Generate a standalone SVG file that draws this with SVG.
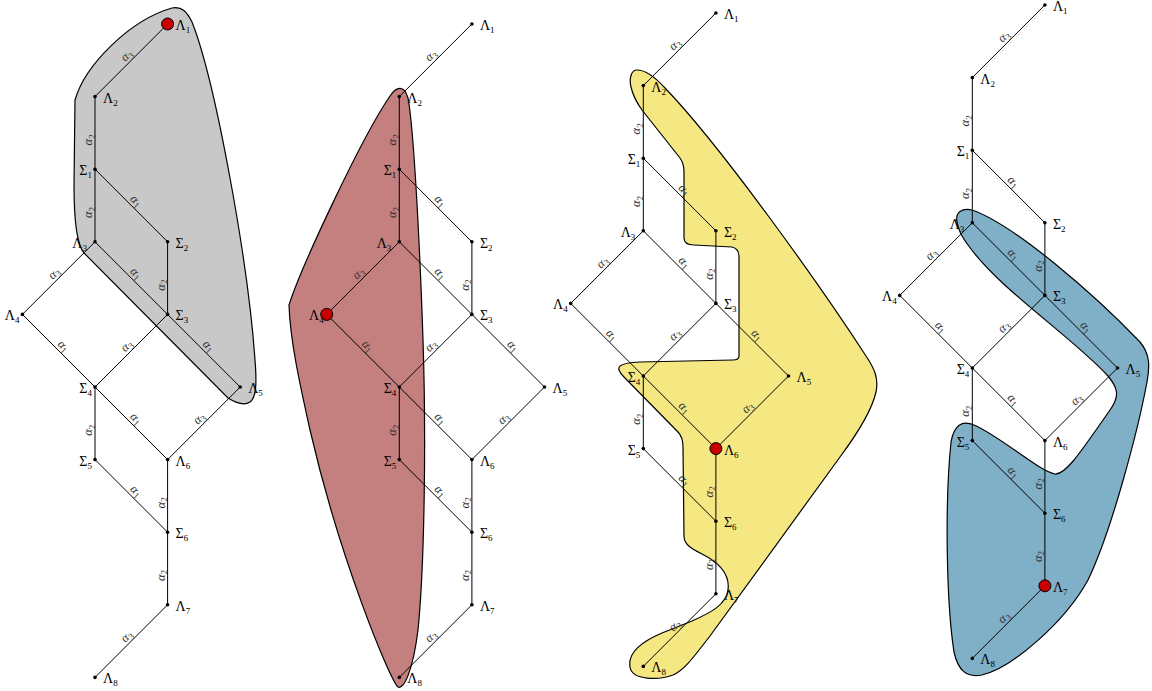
<svg xmlns="http://www.w3.org/2000/svg" width="1152" height="691" viewBox="0 0 1152 691">
<style>
.e{stroke:#000;stroke-width:1;fill:none}
.d{fill:#000}
.h{fill:#c80000;stroke:#000;stroke-width:1}
.nl{font-family:"Liberation Serif",serif;font-size:14px;fill:#000}
.nr{text-anchor:end}
.el{font-family:"Liberation Serif",serif;font-size:12.5px;fill:#333;text-anchor:middle}
.a{font-style:italic}
.s{font-size:9px}
.blob{stroke:#000;stroke-width:1.2}
</style>
<rect width="1152" height="691" fill="#fff"/>
<g id="regions">
<path id="region1" class="blob" fill="#c8c8c8" d="M 172,8 C 182,6 187,12 192,22 C 215,80 248,260 255,360 C 257,385 256,398 250,402 C 244,406 236,403 228,398 L 84,253 C 77,245 74,225 74,185 L 75,100 C 85,65 130,20 172,8 Z"/>
<path id="region2" class="blob" fill="#c47f7f" d="M 289,305 C 300,270 360,140 390,96 C 396,87 404,84 408,98 C 414,130 420,250 423,340 C 426,430 425,560 418,630 C 413,670 404,690 398,687 C 390,680 340,560 310,430 C 300,385 290,340 289,305 Z"/>
<path id="region3" class="blob" fill="#f5e883" d="M 637,70 C 631,70 629,79 631,87 C 633,96 637,103 642,110 L 680,158 C 683,162 684,166 684,172 L 684,238 C 684,243 688,245 694,245 L 732,247 C 737,248 739,251 739,257 L 739,356 C 739,359 737,360 733,360 L 640,362 C 618,363 614,367 624,377 L 678,432 C 682,436 683,440 683,447 L 684,536 C 684,544 690,548 702,554 C 720,563 730,575 728,590 C 726,605 710,613 692,621 L 662,633 C 636,644 628,655 630,667 C 632,681 660,680 673,675 C 685,670 695,655 710,636 L 840,457 C 860,430 872,410 876,392 C 879,378 874,368 866,356 C 820,285 720,145 665,88 C 655,77 645,70 637,70 Z"/>
<path id="region4" class="blob" fill="#80afc8" d="M 957,222 C 955,212 962,208 972,210 C 1015,225 1095,295 1140,342 C 1150,354 1150,366 1147,382 C 1138,430 1112,530 1088,580 C 1065,622 1012,668 982,675 C 966,678 958,670 954,652 C 946,600 945,500 951,442 C 954,425 962,420 974,425 C 1000,436 1040,472 1055,474 C 1066,475 1082,450 1110,410 C 1120,396 1118,388 1108,376 C 1070,335 1000,290 968,245 C 962,237 958,230 957,222 Z"/>
</g>

<!-- Panel 1 -->
<g id="panel1" transform="translate(95,24)">
<g id="p1-connectors">
<line class="e" x1="72.6" y1="0" x2="0" y2="72.6"/>
<line class="e" x1="0" y1="72.6" x2="0" y2="145.2"/>
<line class="e" x1="0" y1="145.2" x2="0" y2="217.8"/>
<line class="e" x1="0" y1="145.2" x2="72.6" y2="217.8"/>
<line class="e" x1="0" y1="217.8" x2="-72.6" y2="290.4"/>
<line class="e" x1="0" y1="217.8" x2="72.6" y2="290.4"/>
<line class="e" x1="72.6" y1="217.8" x2="72.6" y2="290.4"/>
<line class="e" x1="-72.6" y1="290.4" x2="0" y2="363"/>
<line class="e" x1="72.6" y1="290.4" x2="0" y2="363"/>
<line class="e" x1="72.6" y1="290.4" x2="145.2" y2="363"/>
<line class="e" x1="0" y1="363" x2="0" y2="435.6"/>
<line class="e" x1="0" y1="363" x2="72.6" y2="435.6"/>
<line class="e" x1="145.2" y1="363" x2="72.6" y2="435.6"/>
<line class="e" x1="0" y1="435.6" x2="72.6" y2="508.2"/>
<line class="e" x1="72.6" y1="435.6" x2="72.6" y2="508.2"/>
<line class="e" x1="72.6" y1="508.2" x2="72.6" y2="580.8"/>
<line class="e" x1="72.6" y1="580.8" x2="0" y2="653.4"/>
<g transform="translate(36.3,36.3) rotate(-45)"><text class="el" y="-3"><tspan class="a">α</tspan><tspan class="s" dy="2.5">3</tspan></text></g>
<g transform="translate(0,115.9) rotate(-90)"><text class="el" y="-3"><tspan class="a">α</tspan><tspan class="s" dy="2.5">2</tspan></text></g>
<g transform="translate(0,188.5) rotate(-90)"><text class="el" y="-3"><tspan class="a">α</tspan><tspan class="s" dy="2.5">2</tspan></text></g>
<g transform="translate(36.3,181.5) rotate(45)"><text class="el" y="-3"><tspan class="a">α</tspan><tspan class="s" dy="2.5">1</tspan></text></g>
<g transform="translate(-36.3,254.1) rotate(-45)"><text class="el" y="-3"><tspan class="a">α</tspan><tspan class="s" dy="2.5">3</tspan></text></g>
<g transform="translate(36.3,254.1) rotate(45)"><text class="el" y="-3"><tspan class="a">α</tspan><tspan class="s" dy="2.5">1</tspan></text></g>
<g transform="translate(72.6,261.1) rotate(-90)"><text class="el" y="-3"><tspan class="a">α</tspan><tspan class="s" dy="2.5">2</tspan></text></g>
<g transform="translate(-36.3,326.7) rotate(45)"><text class="el" y="-3"><tspan class="a">α</tspan><tspan class="s" dy="2.5">1</tspan></text></g>
<g transform="translate(36.3,326.7) rotate(-45)"><text class="el" y="-3"><tspan class="a">α</tspan><tspan class="s" dy="2.5">3</tspan></text></g>
<g transform="translate(108.9,326.7) rotate(45)"><text class="el" y="-3"><tspan class="a">α</tspan><tspan class="s" dy="2.5">1</tspan></text></g>
<g transform="translate(0,406.3) rotate(-90)"><text class="el" y="-3"><tspan class="a">α</tspan><tspan class="s" dy="2.5">2</tspan></text></g>
<g transform="translate(36.3,399.3) rotate(45)"><text class="el" y="-3"><tspan class="a">α</tspan><tspan class="s" dy="2.5">1</tspan></text></g>
<g transform="translate(108.9,399.3) rotate(-45)"><text class="el" y="-3"><tspan class="a">α</tspan><tspan class="s" dy="2.5">3</tspan></text></g>
<g transform="translate(36.3,471.9) rotate(45)"><text class="el" y="-3"><tspan class="a">α</tspan><tspan class="s" dy="2.5">1</tspan></text></g>
<g transform="translate(72.6,478.9) rotate(-90)"><text class="el" y="-3"><tspan class="a">α</tspan><tspan class="s" dy="2.5">2</tspan></text></g>
<g transform="translate(72.6,551.5) rotate(-90)"><text class="el" y="-3"><tspan class="a">α</tspan><tspan class="s" dy="2.5">2</tspan></text></g>
<g transform="translate(36.3,617.1) rotate(-45)"><text class="el" y="-3"><tspan class="a">α</tspan><tspan class="s" dy="2.5">3</tspan></text></g>
</g>
<g id="p1-L1"><circle class="h" cx="72.6" cy="0" r="6"/><text class="nl" x="80.6" y="6">Λ<tspan class="s" dy="3">1</tspan></text></g>
<g id="p1-L2"><circle class="d" cx="0" cy="72.6" r="1.8"/><text class="nl" x="8" y="78.6">Λ<tspan class="s" dy="3">2</tspan></text></g>
<g id="p1-S1"><circle class="d" cx="0" cy="145.2" r="1.8"/><text class="nl nr" x="-3" y="151.2">Σ<tspan class="s" dy="3">1</tspan></text></g>
<g id="p1-L3"><circle class="d" cx="0" cy="217.8" r="1.8"/><text class="nl nr" x="-8" y="223.8">Λ<tspan class="s" dy="3">3</tspan></text></g>
<g id="p1-S2"><circle class="d" cx="72.6" cy="217.8" r="1.8"/><text class="nl" x="80.6" y="223.8">Σ<tspan class="s" dy="3">2</tspan></text></g>
<g id="p1-L4"><circle class="d" cx="-72.6" cy="290.4" r="1.8"/><text class="nl nr" x="-75.6" y="296.4">Λ<tspan class="s" dy="3">4</tspan></text></g>
<g id="p1-S3"><circle class="d" cx="72.6" cy="290.4" r="1.8"/><text class="nl" x="80.6" y="296.4">Σ<tspan class="s" dy="3">3</tspan></text></g>
<g id="p1-S4"><circle class="d" cx="0" cy="363" r="1.8"/><text class="nl nr" x="-3" y="369">Σ<tspan class="s" dy="3">4</tspan></text></g>
<g id="p1-L5"><circle class="d" cx="145.2" cy="363" r="1.8"/><text class="nl" x="153.2" y="369">Λ<tspan class="s" dy="3">5</tspan></text></g>
<g id="p1-S5"><circle class="d" cx="0" cy="435.6" r="1.8"/><text class="nl nr" x="-3" y="441.6">Σ<tspan class="s" dy="3">5</tspan></text></g>
<g id="p1-L6"><circle class="d" cx="72.6" cy="435.6" r="1.8"/><text class="nl" x="80.6" y="441.6">Λ<tspan class="s" dy="3">6</tspan></text></g>
<g id="p1-S6"><circle class="d" cx="72.6" cy="508.2" r="1.8"/><text class="nl" x="80.6" y="514.2">Σ<tspan class="s" dy="3">6</tspan></text></g>
<g id="p1-L7"><circle class="d" cx="72.6" cy="580.8" r="1.8"/><text class="nl" x="80.6" y="586.8">Λ<tspan class="s" dy="3">7</tspan></text></g>
<g id="p1-L8"><circle class="d" cx="0" cy="653.4" r="1.8"/><text class="nl" x="8" y="659.4">Λ<tspan class="s" dy="3">8</tspan></text></g>
</g>

<!-- Panel 2 -->
<g id="panel2" transform="translate(399.3,24)">
<g id="p2-connectors">
<line class="e" x1="72.6" y1="0" x2="0" y2="72.6"/>
<line class="e" x1="0" y1="72.6" x2="0" y2="145.2"/>
<line class="e" x1="0" y1="145.2" x2="0" y2="217.8"/>
<line class="e" x1="0" y1="145.2" x2="72.6" y2="217.8"/>
<line class="e" x1="0" y1="217.8" x2="-72.6" y2="290.4"/>
<line class="e" x1="0" y1="217.8" x2="72.6" y2="290.4"/>
<line class="e" x1="72.6" y1="217.8" x2="72.6" y2="290.4"/>
<line class="e" x1="-72.6" y1="290.4" x2="0" y2="363"/>
<line class="e" x1="72.6" y1="290.4" x2="0" y2="363"/>
<line class="e" x1="72.6" y1="290.4" x2="145.2" y2="363"/>
<line class="e" x1="0" y1="363" x2="0" y2="435.6"/>
<line class="e" x1="0" y1="363" x2="72.6" y2="435.6"/>
<line class="e" x1="145.2" y1="363" x2="72.6" y2="435.6"/>
<line class="e" x1="0" y1="435.6" x2="72.6" y2="508.2"/>
<line class="e" x1="72.6" y1="435.6" x2="72.6" y2="508.2"/>
<line class="e" x1="72.6" y1="508.2" x2="72.6" y2="580.8"/>
<line class="e" x1="72.6" y1="580.8" x2="0" y2="653.4"/>
<g transform="translate(36.3,36.3) rotate(-45)"><text class="el" y="-3"><tspan class="a">α</tspan><tspan class="s" dy="2.5">3</tspan></text></g>
<g transform="translate(0,115.9) rotate(-90)"><text class="el" y="-3"><tspan class="a">α</tspan><tspan class="s" dy="2.5">2</tspan></text></g>
<g transform="translate(0,188.5) rotate(-90)"><text class="el" y="-3"><tspan class="a">α</tspan><tspan class="s" dy="2.5">2</tspan></text></g>
<g transform="translate(36.3,181.5) rotate(45)"><text class="el" y="-3"><tspan class="a">α</tspan><tspan class="s" dy="2.5">1</tspan></text></g>
<g transform="translate(-36.3,254.1) rotate(-45)"><text class="el" y="-3"><tspan class="a">α</tspan><tspan class="s" dy="2.5">3</tspan></text></g>
<g transform="translate(36.3,254.1) rotate(45)"><text class="el" y="-3"><tspan class="a">α</tspan><tspan class="s" dy="2.5">1</tspan></text></g>
<g transform="translate(72.6,261.1) rotate(-90)"><text class="el" y="-3"><tspan class="a">α</tspan><tspan class="s" dy="2.5">2</tspan></text></g>
<g transform="translate(-36.3,326.7) rotate(45)"><text class="el" y="-3"><tspan class="a">α</tspan><tspan class="s" dy="2.5">1</tspan></text></g>
<g transform="translate(36.3,326.7) rotate(-45)"><text class="el" y="-3"><tspan class="a">α</tspan><tspan class="s" dy="2.5">3</tspan></text></g>
<g transform="translate(108.9,326.7) rotate(45)"><text class="el" y="-3"><tspan class="a">α</tspan><tspan class="s" dy="2.5">1</tspan></text></g>
<g transform="translate(0,406.3) rotate(-90)"><text class="el" y="-3"><tspan class="a">α</tspan><tspan class="s" dy="2.5">2</tspan></text></g>
<g transform="translate(36.3,399.3) rotate(45)"><text class="el" y="-3"><tspan class="a">α</tspan><tspan class="s" dy="2.5">1</tspan></text></g>
<g transform="translate(108.9,399.3) rotate(-45)"><text class="el" y="-3"><tspan class="a">α</tspan><tspan class="s" dy="2.5">3</tspan></text></g>
<g transform="translate(36.3,471.9) rotate(45)"><text class="el" y="-3"><tspan class="a">α</tspan><tspan class="s" dy="2.5">1</tspan></text></g>
<g transform="translate(72.6,478.9) rotate(-90)"><text class="el" y="-3"><tspan class="a">α</tspan><tspan class="s" dy="2.5">2</tspan></text></g>
<g transform="translate(72.6,551.5) rotate(-90)"><text class="el" y="-3"><tspan class="a">α</tspan><tspan class="s" dy="2.5">2</tspan></text></g>
<g transform="translate(36.3,617.1) rotate(-45)"><text class="el" y="-3"><tspan class="a">α</tspan><tspan class="s" dy="2.5">3</tspan></text></g>
</g>
<g id="p2-L1"><circle class="d" cx="72.6" cy="0" r="1.8"/><text class="nl" x="80.6" y="6">Λ<tspan class="s" dy="3">1</tspan></text></g>
<g id="p2-L2"><circle class="d" cx="0" cy="72.6" r="1.8"/><text class="nl" x="8" y="78.6">Λ<tspan class="s" dy="3">2</tspan></text></g>
<g id="p2-S1"><circle class="d" cx="0" cy="145.2" r="1.8"/><text class="nl nr" x="-3" y="151.2">Σ<tspan class="s" dy="3">1</tspan></text></g>
<g id="p2-L3"><circle class="d" cx="0" cy="217.8" r="1.8"/><text class="nl nr" x="-8" y="223.8">Λ<tspan class="s" dy="3">3</tspan></text></g>
<g id="p2-S2"><circle class="d" cx="72.6" cy="217.8" r="1.8"/><text class="nl" x="80.6" y="223.8">Σ<tspan class="s" dy="3">2</tspan></text></g>
<g id="p2-L4"><circle class="h" cx="-72.6" cy="290.4" r="6"/><text class="nl nr" x="-75.6" y="296.4">Λ<tspan class="s" dy="3">4</tspan></text></g>
<g id="p2-S3"><circle class="d" cx="72.6" cy="290.4" r="1.8"/><text class="nl" x="80.6" y="296.4">Σ<tspan class="s" dy="3">3</tspan></text></g>
<g id="p2-S4"><circle class="d" cx="0" cy="363" r="1.8"/><text class="nl nr" x="-3" y="369">Σ<tspan class="s" dy="3">4</tspan></text></g>
<g id="p2-L5"><circle class="d" cx="145.2" cy="363" r="1.8"/><text class="nl" x="153.2" y="369">Λ<tspan class="s" dy="3">5</tspan></text></g>
<g id="p2-S5"><circle class="d" cx="0" cy="435.6" r="1.8"/><text class="nl nr" x="-3" y="441.6">Σ<tspan class="s" dy="3">5</tspan></text></g>
<g id="p2-L6"><circle class="d" cx="72.6" cy="435.6" r="1.8"/><text class="nl" x="80.6" y="441.6">Λ<tspan class="s" dy="3">6</tspan></text></g>
<g id="p2-S6"><circle class="d" cx="72.6" cy="508.2" r="1.8"/><text class="nl" x="80.6" y="514.2">Σ<tspan class="s" dy="3">6</tspan></text></g>
<g id="p2-L7"><circle class="d" cx="72.6" cy="580.8" r="1.8"/><text class="nl" x="80.6" y="586.8">Λ<tspan class="s" dy="3">7</tspan></text></g>
<g id="p2-L8"><circle class="d" cx="0" cy="653.4" r="1.8"/><text class="nl" x="8" y="659.4">Λ<tspan class="s" dy="3">8</tspan></text></g>
</g>

<!-- Panel 3 -->
<g id="panel3" transform="translate(643.3,13)">
<g id="p3-connectors">
<line class="e" x1="72.6" y1="0" x2="0" y2="72.6"/>
<line class="e" x1="0" y1="72.6" x2="0" y2="145.2"/>
<line class="e" x1="0" y1="145.2" x2="0" y2="217.8"/>
<line class="e" x1="0" y1="145.2" x2="72.6" y2="217.8"/>
<line class="e" x1="0" y1="217.8" x2="-72.6" y2="290.4"/>
<line class="e" x1="0" y1="217.8" x2="72.6" y2="290.4"/>
<line class="e" x1="72.6" y1="217.8" x2="72.6" y2="290.4"/>
<line class="e" x1="-72.6" y1="290.4" x2="0" y2="363"/>
<line class="e" x1="72.6" y1="290.4" x2="0" y2="363"/>
<line class="e" x1="72.6" y1="290.4" x2="145.2" y2="363"/>
<line class="e" x1="0" y1="363" x2="0" y2="435.6"/>
<line class="e" x1="0" y1="363" x2="72.6" y2="435.6"/>
<line class="e" x1="145.2" y1="363" x2="72.6" y2="435.6"/>
<line class="e" x1="0" y1="435.6" x2="72.6" y2="508.2"/>
<line class="e" x1="72.6" y1="435.6" x2="72.6" y2="508.2"/>
<line class="e" x1="72.6" y1="508.2" x2="72.6" y2="580.8"/>
<line class="e" x1="72.6" y1="580.8" x2="0" y2="653.4"/>
<g transform="translate(36.3,36.3) rotate(-45)"><text class="el" y="-3"><tspan class="a">α</tspan><tspan class="s" dy="2.5">3</tspan></text></g>
<g transform="translate(0,115.9) rotate(-90)"><text class="el" y="-3"><tspan class="a">α</tspan><tspan class="s" dy="2.5">2</tspan></text></g>
<g transform="translate(0,188.5) rotate(-90)"><text class="el" y="-3"><tspan class="a">α</tspan><tspan class="s" dy="2.5">2</tspan></text></g>
<g transform="translate(36.3,181.5) rotate(45)"><text class="el" y="-3"><tspan class="a">α</tspan><tspan class="s" dy="2.5">1</tspan></text></g>
<g transform="translate(-36.3,254.1) rotate(-45)"><text class="el" y="-3"><tspan class="a">α</tspan><tspan class="s" dy="2.5">3</tspan></text></g>
<g transform="translate(36.3,254.1) rotate(45)"><text class="el" y="-3"><tspan class="a">α</tspan><tspan class="s" dy="2.5">1</tspan></text></g>
<g transform="translate(72.6,261.1) rotate(-90)"><text class="el" y="-3"><tspan class="a">α</tspan><tspan class="s" dy="2.5">2</tspan></text></g>
<g transform="translate(-36.3,326.7) rotate(45)"><text class="el" y="-3"><tspan class="a">α</tspan><tspan class="s" dy="2.5">1</tspan></text></g>
<g transform="translate(36.3,326.7) rotate(-45)"><text class="el" y="-3"><tspan class="a">α</tspan><tspan class="s" dy="2.5">3</tspan></text></g>
<g transform="translate(108.9,326.7) rotate(45)"><text class="el" y="-3"><tspan class="a">α</tspan><tspan class="s" dy="2.5">1</tspan></text></g>
<g transform="translate(0,406.3) rotate(-90)"><text class="el" y="-3"><tspan class="a">α</tspan><tspan class="s" dy="2.5">2</tspan></text></g>
<g transform="translate(36.3,399.3) rotate(45)"><text class="el" y="-3"><tspan class="a">α</tspan><tspan class="s" dy="2.5">1</tspan></text></g>
<g transform="translate(108.9,399.3) rotate(-45)"><text class="el" y="-3"><tspan class="a">α</tspan><tspan class="s" dy="2.5">3</tspan></text></g>
<g transform="translate(36.3,471.9) rotate(45)"><text class="el" y="-3"><tspan class="a">α</tspan><tspan class="s" dy="2.5">1</tspan></text></g>
<g transform="translate(72.6,478.9) rotate(-90)"><text class="el" y="-3"><tspan class="a">α</tspan><tspan class="s" dy="2.5">2</tspan></text></g>
<g transform="translate(72.6,551.5) rotate(-90)"><text class="el" y="-3"><tspan class="a">α</tspan><tspan class="s" dy="2.5">2</tspan></text></g>
<g transform="translate(36.3,617.1) rotate(-45)"><text class="el" y="-3"><tspan class="a">α</tspan><tspan class="s" dy="2.5">3</tspan></text></g>
</g>
<g id="p3-L1"><circle class="d" cx="72.6" cy="0" r="1.8"/><text class="nl" x="80.6" y="6">Λ<tspan class="s" dy="3">1</tspan></text></g>
<g id="p3-L2"><circle class="d" cx="0" cy="72.6" r="1.8"/><text class="nl" x="8" y="78.6">Λ<tspan class="s" dy="3">2</tspan></text></g>
<g id="p3-S1"><circle class="d" cx="0" cy="145.2" r="1.8"/><text class="nl nr" x="-3" y="151.2">Σ<tspan class="s" dy="3">1</tspan></text></g>
<g id="p3-L3"><circle class="d" cx="0" cy="217.8" r="1.8"/><text class="nl nr" x="-8" y="223.8">Λ<tspan class="s" dy="3">3</tspan></text></g>
<g id="p3-S2"><circle class="d" cx="72.6" cy="217.8" r="1.8"/><text class="nl" x="80.6" y="223.8">Σ<tspan class="s" dy="3">2</tspan></text></g>
<g id="p3-L4"><circle class="d" cx="-72.6" cy="290.4" r="1.8"/><text class="nl nr" x="-75.6" y="296.4">Λ<tspan class="s" dy="3">4</tspan></text></g>
<g id="p3-S3"><circle class="d" cx="72.6" cy="290.4" r="1.8"/><text class="nl" x="80.6" y="296.4">Σ<tspan class="s" dy="3">3</tspan></text></g>
<g id="p3-S4"><circle class="d" cx="0" cy="363" r="1.8"/><text class="nl nr" x="-3" y="369">Σ<tspan class="s" dy="3">4</tspan></text></g>
<g id="p3-L5"><circle class="d" cx="145.2" cy="363" r="1.8"/><text class="nl" x="153.2" y="369">Λ<tspan class="s" dy="3">5</tspan></text></g>
<g id="p3-S5"><circle class="d" cx="0" cy="435.6" r="1.8"/><text class="nl nr" x="-3" y="441.6">Σ<tspan class="s" dy="3">5</tspan></text></g>
<g id="p3-L6"><circle class="h" cx="72.6" cy="435.6" r="6"/><text class="nl" x="80.6" y="441.6">Λ<tspan class="s" dy="3">6</tspan></text></g>
<g id="p3-S6"><circle class="d" cx="72.6" cy="508.2" r="1.8"/><text class="nl" x="80.6" y="514.2">Σ<tspan class="s" dy="3">6</tspan></text></g>
<g id="p3-L7"><circle class="d" cx="72.6" cy="580.8" r="1.8"/><text class="nl" x="80.6" y="586.8">Λ<tspan class="s" dy="3">7</tspan></text></g>
<g id="p3-L8"><circle class="d" cx="0" cy="653.4" r="1.8"/><text class="nl" x="8" y="659.4">Λ<tspan class="s" dy="3">8</tspan></text></g>
</g>

<!-- Panel 4 -->
<g id="panel4" transform="translate(972.3,5)">
<g id="p4-connectors">
<line class="e" x1="72.6" y1="0" x2="0" y2="72.6"/>
<line class="e" x1="0" y1="72.6" x2="0" y2="145.2"/>
<line class="e" x1="0" y1="145.2" x2="0" y2="217.8"/>
<line class="e" x1="0" y1="145.2" x2="72.6" y2="217.8"/>
<line class="e" x1="0" y1="217.8" x2="-72.6" y2="290.4"/>
<line class="e" x1="0" y1="217.8" x2="72.6" y2="290.4"/>
<line class="e" x1="72.6" y1="217.8" x2="72.6" y2="290.4"/>
<line class="e" x1="-72.6" y1="290.4" x2="0" y2="363"/>
<line class="e" x1="72.6" y1="290.4" x2="0" y2="363"/>
<line class="e" x1="72.6" y1="290.4" x2="145.2" y2="363"/>
<line class="e" x1="0" y1="363" x2="0" y2="435.6"/>
<line class="e" x1="0" y1="363" x2="72.6" y2="435.6"/>
<line class="e" x1="145.2" y1="363" x2="72.6" y2="435.6"/>
<line class="e" x1="0" y1="435.6" x2="72.6" y2="508.2"/>
<line class="e" x1="72.6" y1="435.6" x2="72.6" y2="508.2"/>
<line class="e" x1="72.6" y1="508.2" x2="72.6" y2="580.8"/>
<line class="e" x1="72.6" y1="580.8" x2="0" y2="653.4"/>
<g transform="translate(36.3,36.3) rotate(-45)"><text class="el" y="-3"><tspan class="a">α</tspan><tspan class="s" dy="2.5">3</tspan></text></g>
<g transform="translate(0,115.9) rotate(-90)"><text class="el" y="-3"><tspan class="a">α</tspan><tspan class="s" dy="2.5">2</tspan></text></g>
<g transform="translate(0,188.5) rotate(-90)"><text class="el" y="-3"><tspan class="a">α</tspan><tspan class="s" dy="2.5">2</tspan></text></g>
<g transform="translate(36.3,181.5) rotate(45)"><text class="el" y="-3"><tspan class="a">α</tspan><tspan class="s" dy="2.5">1</tspan></text></g>
<g transform="translate(-36.3,254.1) rotate(-45)"><text class="el" y="-3"><tspan class="a">α</tspan><tspan class="s" dy="2.5">3</tspan></text></g>
<g transform="translate(36.3,254.1) rotate(45)"><text class="el" y="-3"><tspan class="a">α</tspan><tspan class="s" dy="2.5">1</tspan></text></g>
<g transform="translate(72.6,261.1) rotate(-90)"><text class="el" y="-3"><tspan class="a">α</tspan><tspan class="s" dy="2.5">2</tspan></text></g>
<g transform="translate(-36.3,326.7) rotate(45)"><text class="el" y="-3"><tspan class="a">α</tspan><tspan class="s" dy="2.5">1</tspan></text></g>
<g transform="translate(36.3,326.7) rotate(-45)"><text class="el" y="-3"><tspan class="a">α</tspan><tspan class="s" dy="2.5">3</tspan></text></g>
<g transform="translate(108.9,326.7) rotate(45)"><text class="el" y="-3"><tspan class="a">α</tspan><tspan class="s" dy="2.5">1</tspan></text></g>
<g transform="translate(0,406.3) rotate(-90)"><text class="el" y="-3"><tspan class="a">α</tspan><tspan class="s" dy="2.5">2</tspan></text></g>
<g transform="translate(36.3,399.3) rotate(45)"><text class="el" y="-3"><tspan class="a">α</tspan><tspan class="s" dy="2.5">1</tspan></text></g>
<g transform="translate(108.9,399.3) rotate(-45)"><text class="el" y="-3"><tspan class="a">α</tspan><tspan class="s" dy="2.5">3</tspan></text></g>
<g transform="translate(36.3,471.9) rotate(45)"><text class="el" y="-3"><tspan class="a">α</tspan><tspan class="s" dy="2.5">1</tspan></text></g>
<g transform="translate(72.6,478.9) rotate(-90)"><text class="el" y="-3"><tspan class="a">α</tspan><tspan class="s" dy="2.5">2</tspan></text></g>
<g transform="translate(72.6,551.5) rotate(-90)"><text class="el" y="-3"><tspan class="a">α</tspan><tspan class="s" dy="2.5">2</tspan></text></g>
<g transform="translate(36.3,617.1) rotate(-45)"><text class="el" y="-3"><tspan class="a">α</tspan><tspan class="s" dy="2.5">3</tspan></text></g>
</g>
<g id="p4-L1"><circle class="d" cx="72.6" cy="0" r="1.8"/><text class="nl" x="80.6" y="6">Λ<tspan class="s" dy="3">1</tspan></text></g>
<g id="p4-L2"><circle class="d" cx="0" cy="72.6" r="1.8"/><text class="nl" x="8" y="78.6">Λ<tspan class="s" dy="3">2</tspan></text></g>
<g id="p4-S1"><circle class="d" cx="0" cy="145.2" r="1.8"/><text class="nl nr" x="-3" y="151.2">Σ<tspan class="s" dy="3">1</tspan></text></g>
<g id="p4-L3"><circle class="d" cx="0" cy="217.8" r="1.8"/><text class="nl nr" x="-8" y="223.8">Λ<tspan class="s" dy="3">3</tspan></text></g>
<g id="p4-S2"><circle class="d" cx="72.6" cy="217.8" r="1.8"/><text class="nl" x="80.6" y="223.8">Σ<tspan class="s" dy="3">2</tspan></text></g>
<g id="p4-L4"><circle class="d" cx="-72.6" cy="290.4" r="1.8"/><text class="nl nr" x="-75.6" y="296.4">Λ<tspan class="s" dy="3">4</tspan></text></g>
<g id="p4-S3"><circle class="d" cx="72.6" cy="290.4" r="1.8"/><text class="nl" x="80.6" y="296.4">Σ<tspan class="s" dy="3">3</tspan></text></g>
<g id="p4-S4"><circle class="d" cx="0" cy="363" r="1.8"/><text class="nl nr" x="-3" y="369">Σ<tspan class="s" dy="3">4</tspan></text></g>
<g id="p4-L5"><circle class="d" cx="145.2" cy="363" r="1.8"/><text class="nl" x="153.2" y="369">Λ<tspan class="s" dy="3">5</tspan></text></g>
<g id="p4-S5"><circle class="d" cx="0" cy="435.6" r="1.8"/><text class="nl nr" x="-3" y="441.6">Σ<tspan class="s" dy="3">5</tspan></text></g>
<g id="p4-L6"><circle class="d" cx="72.6" cy="435.6" r="1.8"/><text class="nl" x="80.6" y="441.6">Λ<tspan class="s" dy="3">6</tspan></text></g>
<g id="p4-S6"><circle class="d" cx="72.6" cy="508.2" r="1.8"/><text class="nl" x="80.6" y="514.2">Σ<tspan class="s" dy="3">6</tspan></text></g>
<g id="p4-L7"><circle class="h" cx="72.6" cy="580.8" r="6"/><text class="nl" x="80.6" y="586.8">Λ<tspan class="s" dy="3">7</tspan></text></g>
<g id="p4-L8"><circle class="d" cx="0" cy="653.4" r="1.8"/><text class="nl" x="8" y="659.4">Λ<tspan class="s" dy="3">8</tspan></text></g>
</g>
</svg>
